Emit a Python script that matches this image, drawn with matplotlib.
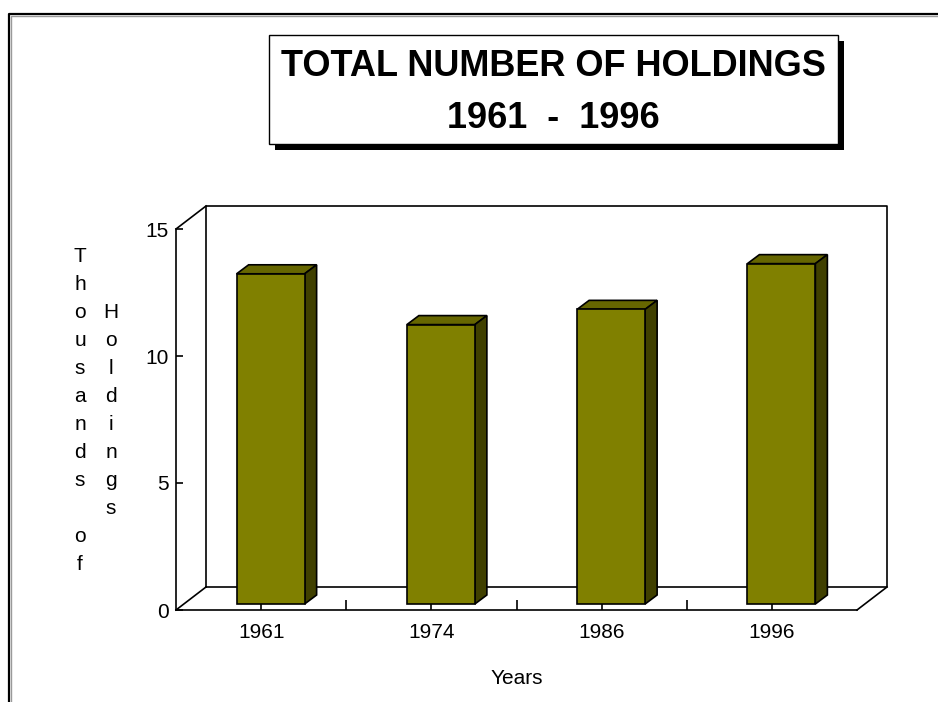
import matplotlib
matplotlib.use('Agg')
import matplotlib.pyplot as plt
from matplotlib.patches import Rectangle, Polygon
import numpy as np

plt.rcParams['font.family'] = ['Liberation Sans', 'DejaVu Sans']

# data (thousands of holdings)
years = ['1961', '1974', '1986', '1996']
holdings = [13.0, 11.0, 11.6, 13.4]
yticks = [0, 5, 10, 15]

# colours of the 3d bars
c_front = '#808000'
c_top = '#666600'
c_side = '#404000'

W, H = 938, 702
fig = plt.figure(figsize=(W / 100, H / 100), dpi=100)

# overlay in pixel coordinates for frame, title box and labels
bg = fig.add_axes([0, 0, 1, 1], zorder=0)
bg.set_xlim(0, W)
bg.set_ylim(H, 0)
bg.axis('off')

# outer frame (only top and left visible)
bg.plot([10.5, 10.5, W + 5], [H + 5, 15.5, 15.5], color='#9a9a9a', lw=1.0, clip_on=False)
bg.plot([9, 9, W + 5], [H + 5, 14, 14], color='black', lw=1.6, clip_on=False)

# title box with drop shadow
bg.add_patch(Rectangle((275, 41), 569, 109, facecolor='black', edgecolor='none'))
bg.add_patch(Rectangle((269, 35), 569, 109, facecolor='white', edgecolor='black', lw=1.0))
bg.text(553, 67, 'TOTAL NUMBER OF HOLDINGS', ha='center', va='center',
        fontsize=26, fontweight='bold')
bg.text(553, 118, '1961  -  1996', ha='center', va='center',
        fontsize=26, fontweight='bold')

# axis titles
bg.text(517, 678, 'Years', ha='center', va='center', fontsize=15)
bg.text(80, 410, '\n'.join('Thousands of'), ha='center', va='center',
        multialignment='center', linespacing=1.6, fontsize=15)
bg.text(111, 410, '\n'.join('Holdings'), ha='center', va='center',
        multialignment='center', linespacing=1.6, fontsize=15)

# front plane of the 3d chart
x0, x1, y0, y15 = 176, 857, 610, 229
ax = fig.add_axes([x0 / W, (H - y0) / H, (x1 - x0) / W, (y0 - y15) / H], zorder=1)
ax.patch.set_alpha(0)
n = len(years)
ax.set_xlim(0, n)
ax.set_ylim(0, 15)
px_x = (x1 - x0) / n
px_y = (y0 - y15) / 15


def off(dx, dy):
    # pixel offset -> data offset
    return dx / px_x, dy / px_y


# back wall + floor edges
bx, by = off(30, 23)
ax.plot([bx, bx, n + bx, n + bx, bx], [by, 15 + by, 15 + by, by, by],
        color='black', lw=1.2, clip_on=False, zorder=2)
for (xa, ya) in [(0, 15), (0, 0), (n, 0)]:
    ax.plot([xa, xa + bx], [ya, ya + by], color='black', lw=1.2, clip_on=False, zorder=2)

# bars
centers = np.arange(n) + 0.5
width = 68 / px_x
fx, fy = off(9.5, 6)
dx, dy = off(12, 9)
ax.bar(centers + fx, holdings, width, bottom=fy, color=c_front, edgecolor='black',
       lw=1.2, zorder=4, clip_on=False)
for c, v in zip(centers, holdings):
    l = c + fx - width / 2
    r = l + width
    b = fy
    t = fy + v
    ax.add_patch(Polygon([(l, t), (r, t), (r + dx, t + dy), (l + dx, t + dy)],
                         facecolor=c_top, edgecolor='black', lw=1.2, zorder=3, clip_on=False))
    ax.add_patch(Polygon([(r, b), (r + dx, b + dy), (r + dx, t + dy), (r, t)],
                         facecolor=c_side, edgecolor='black', lw=1.2, zorder=3, clip_on=False))

# axes styling
ax.spines[['top', 'right']].set_visible(False)
ax.spines[['left', 'bottom']].set_linewidth(1.2)
ax.set_yticks(yticks)
ax.tick_params(axis='y', direction='in', length=5, width=1.2, labelsize=15, pad=5)
ax.set_xticks(centers, years)
ax.set_xticks(np.arange(1, n), minor=True)
ax.tick_params(axis='x', which='major', direction='in', length=6, width=1.2,
               labelsize=15, pad=9)
ax.tick_params(axis='x', which='minor', direction='in', length=7, width=1.2)

fig.savefig('out.png', dpi=100)
